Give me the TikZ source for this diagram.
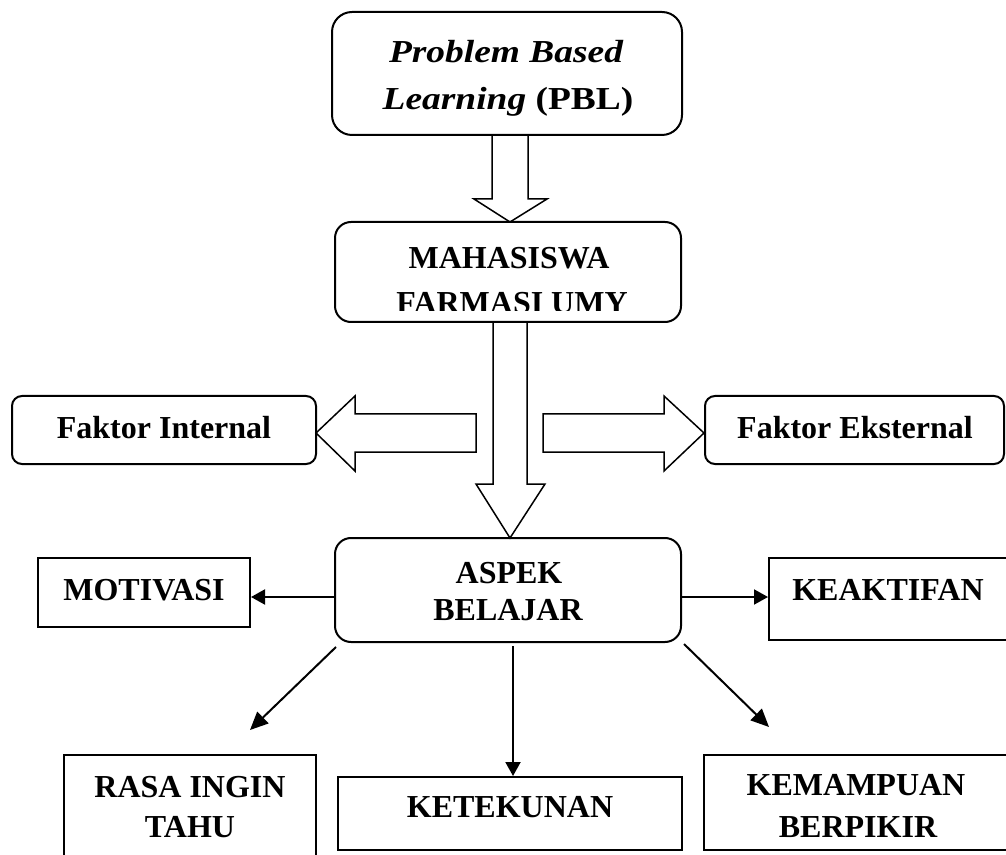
\documentclass[tikz,border=0pt]{standalone}
\usepackage{graphicx}
\usepackage{fontspec}
\setmainfont{Liberation Serif}
\usetikzlibrary{arrows.meta,calc}
\begin{document}
\begin{tikzpicture}[x=0.5pt,y=-0.5pt,
  rbox/.style={draw,line width=1pt,rounded corners=#1,inner sep=0pt},
  rbox/.default=8pt,
  sbox/.style={draw,line width=1pt,inner sep=0pt},
  txt/.style={font=\fontsize{16}{19}\selectfont\bfseries,anchor=base,inner sep=0pt},
  hollow/.style={draw,line width=0.75pt,line join=miter},
  conn/.style={line width=1pt,-{Triangle[length=7pt,width=7.5pt]}},
  diagconn/.style={line width=1pt,-{Triangle[length=9pt,width=8pt]}},
]
\useasboundingbox[fill=white] (0,0) rectangle (1006,855);

% boxes
\node[rbox=10pt, minimum width=175pt, minimum height=61.5pt] (pbl) at (507,73.5) {};
\node[rbox=8pt, minimum width=173pt, minimum height=50pt] (maha) at (508,272) {};
\node[rbox=5pt, minimum width=152pt, minimum height=34pt] (fi) at (164,430) {};
\node[rbox=5pt, minimum width=149.5pt, minimum height=34pt] (fe) at (854.5,430) {};
\node[rbox=8pt, minimum width=173pt, minimum height=52pt] (aspek) at (508,590) {};
\node[sbox, minimum width=106pt, minimum height=34.5pt] (mot) at (144,592.5) {};
\node[sbox, minimum width=121.5pt, minimum height=41pt] (keak) at (890.5,599) {};
\node[sbox, minimum width=126pt, minimum height=53.5pt] (rasa) at (190,808.5) {};
\node[sbox, minimum width=172pt, minimum height=36.5pt] (ketek) at (510,813.5) {};
\node[sbox, minimum width=154pt, minimum height=47.5pt] (kemam) at (858,802.5) {};

% texts
\node[txt] (t1) at (506,63) {\scalebox{1.17}[1]{\itshape Problem Based}};
\node[txt] (t2) at (508,110) {\scalebox{1.17}[1]{\itshape Learning\/ \upshape(PBL)}};
\node[txt] (t3) at (509,269) {MAHASISWA};
\begin{scope}
  \clip (300,280) rectangle (720,311);
  \node[txt] (t4) at (512,314) {FARMASI UMY};
\end{scope}
\node[txt] (t5) at (164,438) {Faktor Internal};
\node[txt] (t6) at (855,438) {Faktor Eksternal};
\node[txt] (t7) at (509,583) {ASPEK};
\node[txt] (t8) at (508,620) {BELAJAR};
\node[txt] (t9) at (144,600) {MOTIVASI};
\node[txt] (t10) at (888,600) {KEAKTIFAN};
\node[txt] (t11) at (190,797) {RASA INGIN};
\node[txt] (t12) at (190,837) {TAHU};
\node[txt] (t13) at (510,817) {KETEKUNAN};
\node[txt] (t14) at (856,795) {KEMAMPUAN};
\node[txt] (t15) at (858,837) {BERPIKIR};

% hollow block arrows
\draw[hollow] (492,135) -- (492,199) -- (474,199) -- (510,222) -- (547,199) -- (528,199) -- (528,135);
\draw[hollow] (493,322) -- (493,484) -- (476,484) -- (510,538) -- (545,484) -- (527,484) -- (527,322);
\draw[hollow] (476,414) -- (355,414) -- (355,396) -- (316,433) -- (355,471) -- (355,452) -- (476,452) -- cycle;
\draw[hollow] (543,414) -- (664,414) -- (664,396) -- (704,433) -- (664,471) -- (664,452) -- (543,452) -- cycle;

% connectors
\coordinate (yarrow) at (0,597);
\coordinate (col) at (513,0);
\coordinate (tipL) at (250,730);
\coordinate (tipR) at (769,727);
\draw[conn] (aspek.west |- yarrow) -- (mot.east |- yarrow);
\draw[conn] (aspek.east |- yarrow) -- (keak.west |- yarrow);
\draw[diagconn] ($(aspek.south west)+(2,4)$) -- (tipL);
\draw[diagconn] ($(aspek.south east)+(2,1)$) -- (tipR);
\draw[conn] ($(aspek.south -| col)+(0,3)$) -- (ketek.north -| col);
\end{tikzpicture}
\end{document}
